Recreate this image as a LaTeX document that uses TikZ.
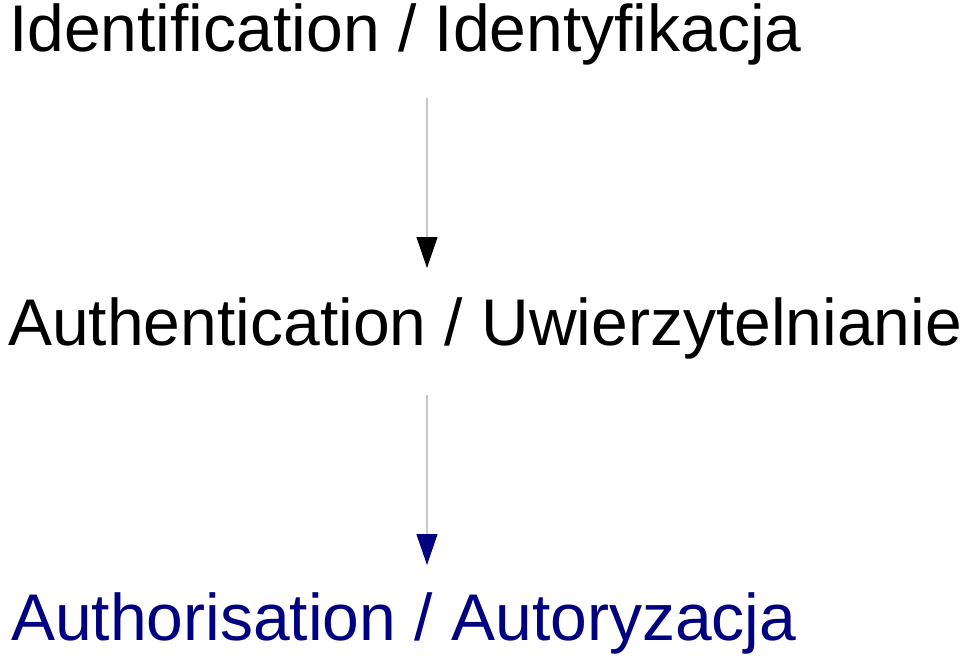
\documentclass[tikz,border=0pt]{standalone}
\usepackage{fontspec}
\setmainfont{Liberation Sans}
\usetikzlibrary{arrows.meta}
\definecolor{navy}{RGB}{0,0,128}
\definecolor{linegray}{RGB}{200,200,200}

\begin{document}
\begin{tikzpicture}
  [x=1pt,y=-1pt,every node/.style={anchor=base west,inner sep=0pt,font=\fontsize{66}{70}\selectfont}]
  \useasboundingbox (0,0) rectangle (960,661);
  \node (nid) at (9,52) {Identification / Identyfikacja};
  \node (nauth) at (8,345) {Authentication / Uwierzytelnianie};
  \node[text=navy] (nauthz) at (11,640) {Authorisation / Autoryzacja};
  \coordinate (ca) at (427,98);
  \coordinate (cb) at (427,268);
  \coordinate (cc) at (427,395);
  \coordinate (cd) at (427,565);
  \foreach \from/\to/\col in {ca/cb/black, cc/cd/navy}
    \draw[linegray,line width=1.2pt,-{Triangle[length=31pt,width=21pt,color=\col]}] (\from) -- (\to);
\end{tikzpicture}
\end{document}
